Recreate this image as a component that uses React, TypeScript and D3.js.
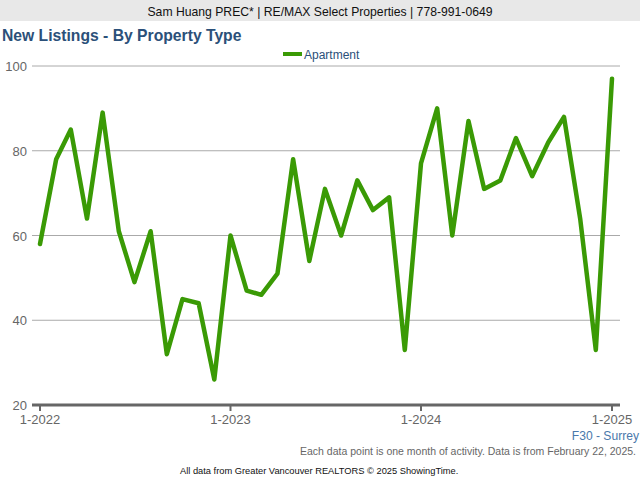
import React from "react";
import * as d3 from "d3";

const months: string[] = [
  "2022-01","2022-02","2022-03","2022-04","2022-05","2022-06","2022-07","2022-08","2022-09","2022-10","2022-11","2022-12",
  "2023-01","2023-02","2023-03","2023-04","2023-05","2023-06","2023-07","2023-08","2023-09","2023-10","2023-11","2023-12",
  "2024-01","2024-02","2024-03","2024-04","2024-05","2024-06","2024-07","2024-08","2024-09","2024-10","2024-11","2024-12",
  "2025-01",
];
const apartment: number[] = [
  58, 78, 85, 64, 89, 61, 49, 61, 32, 45, 44, 26,
  60, 47, 46, 51, 78, 54, 71, 60, 73, 66, 69, 33,
  77, 90, 60, 87, 71, 73, 83, 74, 82, 88, 64, 33,
  97,
];
const yTicks: number[] = [20, 40, 60, 80, 100];
const xTickLabels: string[] = ["1-2022", "1-2023", "1-2024", "1-2025"];
const xTickMonths: string[] = ["2022-01", "2023-01", "2024-01", "2025-01"];

const FONT = "'Liberation Sans', Arial, sans-serif";

export default function App() {
  const parse = d3.timeParse("%Y-%m");
  const dates = months.map((m) => parse(m) as Date);
  const x = d3.scaleTime().domain([dates[0], dates[dates.length - 1]]).range([40, 612]);
  const y = d3.scaleLinear().domain([20, 100]).range([405, 66]);
  const line = d3
    .line<number>()
    .x((_, i) => x(dates[i]))
    .y((d) => y(d));
  const left = 32;
  const right = 620;

  return (
    <svg
      width={640}
      height={480}
      style={{ position: "absolute", left: 0, top: 0, background: "#fff" }}
      fontFamily={FONT}
    >
      <rect x={0} y={0} width={640} height={21} fill="#e8e8e8" />
      <text x={320} y={15.5} textAnchor="middle" fontSize={12.2} fill="#111">
        Sam Huang PREC* | RE/MAX Select Properties | 778-991-0649
      </text>
      <text x={2} y={41} fontSize={15.7} fontWeight="bold" fill="#2b5079">
        New Listings - By Property Type
      </text>

      <line x1={283} x2={302} y1={54} y2={54} stroke="#3a9a05" strokeWidth={4} />
      <text x={304} y={58.5} fontSize={12} fill="#2b5079">
        Apartment
      </text>

      {yTicks.map((t) => (
        <g key={t}>
          {t !== 20 && (
            <line x1={left} x2={right} y1={y(t)} y2={y(t)} stroke="#aaa" strokeWidth={1} />
          )}
          <text x={27} y={y(t) + 5} textAnchor="end" fontSize={13} fill="#666">
            {t}
          </text>
        </g>
      ))}

      <line x1={left} x2={right} y1={y(20)} y2={y(20)} stroke="#666" strokeWidth={3} />
      {xTickMonths.map((m, i) => {
        const xx = x(parse(m) as Date);
        return (
          <g key={m}>
            <line x1={xx} x2={xx} y1={y(20)} y2={y(20) + 6} stroke="#666" strokeWidth={2} />
            <text x={xx} y={424} textAnchor="middle" fontSize={13} fill="#666">
              {xTickLabels[i]}
            </text>
          </g>
        );
      })}

      <path
        d={line(apartment) || ""}
        fill="none"
        stroke="#3a9a05"
        strokeWidth={4.5}
        strokeLinejoin="round"
        strokeLinecap="round"
      />

      <text x={639} y={440} textAnchor="end" fontSize={12.1} fill="#4a78ab">
        F30 - Surrey
      </text>
      <text x={636} y={455} textAnchor="end" fontSize={10.5} fill="#666">
        Each data point is one month of activity. Data is from February 22, 2025.
      </text>
      <text x={180} y={474} fontSize={9.3} fill="#111">
        All data from Greater Vancouver REALTORS © 2025 ShowingTime.
      </text>
    </svg>
  );
}
